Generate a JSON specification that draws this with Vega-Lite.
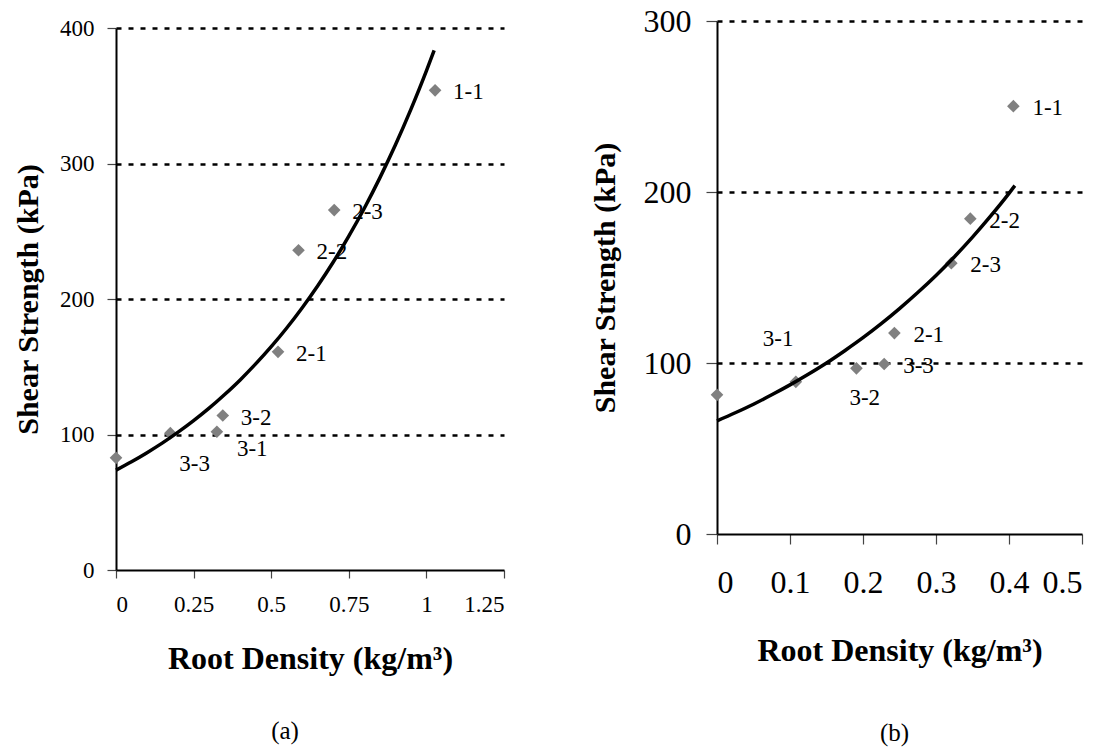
{
  "$schema": "https://vega.github.io/schema/vega-lite/v6.json",
  "background": "white",
  "padding": {"left": 13, "top": 5, "right": 2, "bottom": 5},
  "config": {
    "view": {"stroke": null},
    "font": "Liberation Serif",
    "axis": {
      "labelFont": "Liberation Serif",
      "titleFont": "Liberation Serif",
      "labelColor": "black",
      "titleColor": "black",
      "domainColor": "black",
      "domainWidth": 2,
      "tickColor": "#444",
      "tickWidth": 1.2,
      "gridColor": "black",
      "gridDash": [5, 7],
      "gridWidth": 2.5,
      "titleFontWeight": "bold",
      "labelFontWeight": "normal",
      "labelExpr": "'' + datum.value"
    },
    "concat": {"spacing": 85}
  },
  "datasets": {
    "ptsA": [
      {"x": 0, "y": 82.8, "label": ""},
      {"x": 0.175, "y": 101, "label": "3-3"},
      {"x": 0.325, "y": 102, "label": "3-1"},
      {"x": 0.344, "y": 114, "label": "3-2"},
      {"x": 0.522, "y": 161, "label": "2-1"},
      {"x": 0.588, "y": 236, "label": "2-2"},
      {"x": 0.703, "y": 265.6, "label": "2-3"},
      {"x": 1.028, "y": 354, "label": "1-1"}
    ],
    "curveA": [
      {"x": 0, "y": 73.7}, {"x": 0.05, "y": 79.9}, {"x": 0.1, "y": 86.6}, {"x": 0.15, "y": 93.8},
      {"x": 0.2, "y": 101.7}, {"x": 0.25, "y": 110.2}, {"x": 0.3, "y": 119.4}, {"x": 0.35, "y": 129.5},
      {"x": 0.4, "y": 140.3}, {"x": 0.45, "y": 152.1}, {"x": 0.5, "y": 164.8}, {"x": 0.55, "y": 178.6},
      {"x": 0.6, "y": 193.6}, {"x": 0.65, "y": 209.8}, {"x": 0.7, "y": 227.3}, {"x": 0.75, "y": 246.4},
      {"x": 0.8, "y": 267.0}, {"x": 0.85, "y": 289.4}, {"x": 0.9, "y": 313.6}, {"x": 0.95, "y": 339.9},
      {"x": 1.0, "y": 368.3}, {"x": 1.025, "y": 383.5}
    ],
    "ptsB": [
      {"x": 0, "y": 81.4, "label": ""},
      {"x": 0.108, "y": 89, "label": "3-1"},
      {"x": 0.191, "y": 96.9, "label": "3-2"},
      {"x": 0.229, "y": 99.4, "label": "3-3"},
      {"x": 0.243, "y": 117.5, "label": "2-1"},
      {"x": 0.321, "y": 158.4, "label": "2-3"},
      {"x": 0.347, "y": 184.4, "label": "2-2"},
      {"x": 0.406, "y": 250.2, "label": "1-1"}
    ],
    "curveB": [
      {"x": 0, "y": 66.2}, {"x": 0.025, "y": 70.9}, {"x": 0.05, "y": 75.9}, {"x": 0.075, "y": 81.4},
      {"x": 0.1, "y": 87.2}, {"x": 0.125, "y": 93.4}, {"x": 0.15, "y": 100.0}, {"x": 0.175, "y": 107.2},
      {"x": 0.2, "y": 114.8}, {"x": 0.225, "y": 123.0}, {"x": 0.25, "y": 131.8}, {"x": 0.275, "y": 141.2},
      {"x": 0.3, "y": 151.2}, {"x": 0.325, "y": 162.0}, {"x": 0.35, "y": 173.6}, {"x": 0.375, "y": 186.0},
      {"x": 0.4, "y": 199.2}, {"x": 0.408, "y": 203.7}
    ]
  },
  "hconcat": [
    {
      "width": 388,
      "height": 549,
      "title": {"text": "(a)", "orient": "bottom", "font": "Liberation Serif", "fontSize": 25, "fontWeight": "normal", "offset": 45, "dx": -25, "anchor": "middle", "frame": "group", "color": "black"},
      "layer": [
        {
          "data": {"name": "ptsA"},
          "mark": {"type": "point", "shape": "diamond", "filled": true, "color": "#808080", "size": 160, "opacity": 1},
          "encoding": {
            "x": {"field": "x", "type": "quantitative",
              "scale": {"domain": [0, 1.25], "nice": false, "zero": false},
              "axis": {"title": "Root Density (kg/m³)", "values": [0, 0.25, 0.5, 0.75, 1, 1.25], "grid": false,
                "labelFontSize": 23, "titleFontSize": 32, "tickSize": 8, "labelPadding": 15, "titlePadding": 27}},
            "y": {"field": "y", "type": "quantitative",
              "scale": {"domain": [0, 400], "range": [549, 7], "nice": false, "zero": false},
              "axis": {"title": "Shear Strength (kPa)", "values": [0, 100, 200, 300, 400], "grid": true,
                "gridOpacity": {"condition": {"test": "datum.value === 0", "value": 0}, "value": 1},
                "labelFontSize": 23, "titleFontSize": 30, "tickSize": 9, "labelPadding": 13, "titlePadding": 16}}
          }
        },
        {
          "data": {"name": "curveA"},
          "mark": {"type": "line", "color": "black", "strokeWidth": 3.5, "interpolate": "monotone"},
          "encoding": {
            "x": {"field": "x", "type": "quantitative"},
            "y": {"field": "y", "type": "quantitative"}
          }
        },
        {
          "mark": {"type": "rule", "color": "black", "strokeWidth": 2},
          "encoding": {
            "x": {"datum": 1.25, "type": "quantitative"},
            "y": {"datum": 0, "type": "quantitative"},
            "y2": {"datum": 400}
          }
        },
        {
          "data": {"name": "ptsA"},
          "transform": [{"filter": {"field": "label", "oneOf": ["1-1", "2-3", "2-2", "2-1", "3-2"]}}],
          "mark": {"type": "text", "align": "left", "baseline": "middle", "dx": 18, "dy": 2, "fontSize": 23, "font": "Liberation Serif", "color": "black"},
          "encoding": {
            "x": {"field": "x", "type": "quantitative"},
            "y": {"field": "y", "type": "quantitative"},
            "text": {"field": "label"}
          }
        },
        {
          "data": {"name": "ptsA"},
          "transform": [{"filter": {"field": "label", "equal": "3-1"}}],
          "mark": {"type": "text", "align": "left", "baseline": "middle", "dx": 20, "dy": 17, "fontSize": 23, "font": "Liberation Serif", "color": "black"},
          "encoding": {
            "x": {"field": "x", "type": "quantitative"},
            "y": {"field": "y", "type": "quantitative"},
            "text": {"field": "label"}
          }
        },
        {
          "data": {"name": "ptsA"},
          "transform": [{"filter": {"field": "label", "equal": "3-3"}}],
          "mark": {"type": "text", "align": "left", "baseline": "middle", "dx": 9, "dy": 31, "fontSize": 23, "font": "Liberation Serif", "color": "black"},
          "encoding": {
            "x": {"field": "x", "type": "quantitative"},
            "y": {"field": "y", "type": "quantitative"},
            "text": {"field": "label"}
          }
        },
        {
          "mark": {"type": "text", "text": "y = 73.717e", "align": "left", "baseline": "middle", "fontSize": 25, "font": "Liberation Serif", "color": "black"},
          "encoding": {
            "x": {"datum": 0.129, "type": "quantitative"},
            "y": {"datum": 348, "type": "quantitative"}
          }
        },
        {
          "mark": {"type": "text", "text": "1.6088x", "align": "left", "baseline": "middle", "fontSize": 17, "font": "Liberation Serif", "color": "black"},
          "encoding": {
            "x": {"datum": 0.518, "type": "quantitative"},
            "y": {"datum": 359.5, "type": "quantitative"}
          }
        },
        {
          "mark": {"type": "text", "text": "R² = 0.9278", "align": "left", "baseline": "middle", "fontSize": 25, "font": "Liberation Serif", "color": "black"},
          "encoding": {
            "x": {"datum": 0.233, "type": "quantitative"},
            "y": {"datum": 318.8, "type": "quantitative"}
          }
        }
      ]
    },
    {
      "width": 365,
      "height": 513,
      "title": {"text": "(b)", "orient": "bottom", "font": "Liberation Serif", "fontSize": 25, "fontWeight": "normal", "offset": 55, "dx": -5, "anchor": "middle", "frame": "group", "color": "black"},
      "layer": [
        {
          "data": {"name": "ptsB"},
          "mark": {"type": "point", "shape": "diamond", "filled": true, "color": "#808080", "size": 160, "opacity": 1},
          "encoding": {
            "x": {"field": "x", "type": "quantitative",
              "scale": {"domain": [0, 0.5], "nice": false, "zero": false},
              "axis": {"title": "Root Density (kg/m³)", "values": [0, 0.1, 0.2, 0.3, 0.4, 0.5], "grid": false,
                "labelFontSize": 32, "titleFontSize": 32, "tickSize": 10, "labelPadding": 23, "titlePadding": 37}},
            "y": {"field": "y", "type": "quantitative",
              "scale": {"domain": [0, 300], "nice": false, "zero": false},
              "axis": {"title": "Shear Strength (kPa)", "values": [0, 100, 200, 300], "grid": true,
                "gridOpacity": {"condition": {"test": "datum.value === 0", "value": 0}, "value": 1},
                "labelFontSize": 32, "titleFontSize": 30, "tickSize": 11, "labelPadding": 15, "titlePadding": 23}}
          }
        },
        {
          "data": {"name": "curveB"},
          "mark": {"type": "line", "color": "black", "strokeWidth": 3.5, "interpolate": "monotone"},
          "encoding": {
            "x": {"field": "x", "type": "quantitative"},
            "y": {"field": "y", "type": "quantitative"}
          }
        },
        {
          "mark": {"type": "rule", "color": "black", "strokeWidth": 2},
          "encoding": {
            "x": {"datum": 0.5, "type": "quantitative"},
            "y": {"datum": 0, "type": "quantitative"},
            "y2": {"datum": 300}
          }
        },
        {
          "data": {"name": "ptsB"},
          "transform": [{"filter": {"field": "label", "oneOf": ["1-1", "2-2", "2-3", "2-1", "3-3"]}}],
          "mark": {"type": "text", "align": "left", "baseline": "middle", "dx": 19, "dy": 2, "fontSize": 23, "font": "Liberation Serif", "color": "black"},
          "encoding": {
            "x": {"field": "x", "type": "quantitative"},
            "y": {"field": "y", "type": "quantitative"},
            "text": {"field": "label"}
          }
        },
        {
          "data": {"name": "ptsB"},
          "transform": [{"filter": {"field": "label", "equal": "3-2"}}],
          "mark": {"type": "text", "align": "left", "baseline": "middle", "dx": -7, "dy": 30, "fontSize": 23, "font": "Liberation Serif", "color": "black"},
          "encoding": {
            "x": {"field": "x", "type": "quantitative"},
            "y": {"field": "y", "type": "quantitative"},
            "text": {"field": "label"}
          }
        },
        {
          "data": {"name": "ptsB"},
          "transform": [{"filter": {"field": "label", "equal": "3-1"}}],
          "mark": {"type": "text", "align": "left", "baseline": "middle", "dx": -33, "dy": -43, "fontSize": 23, "font": "Liberation Serif", "color": "black"},
          "encoding": {
            "x": {"field": "x", "type": "quantitative"},
            "y": {"field": "y", "type": "quantitative"},
            "text": {"field": "label"}
          }
        },
        {
          "mark": {"type": "text", "text": "y = 66.166e", "align": "left", "baseline": "middle", "fontSize": 25, "font": "Liberation Serif", "color": "black"},
          "encoding": {
            "x": {"datum": 0.0445, "type": "quantitative"},
            "y": {"datum": 259.5, "type": "quantitative"}
          }
        },
        {
          "mark": {"type": "text", "text": "2.7556x", "align": "left", "baseline": "middle", "fontSize": 17, "font": "Liberation Serif", "color": "black"},
          "encoding": {
            "x": {"datum": 0.211, "type": "quantitative"},
            "y": {"datum": 268.3, "type": "quantitative"}
          }
        },
        {
          "mark": {"type": "text", "text": "R² = 0.8373", "align": "left", "baseline": "middle", "fontSize": 25, "font": "Liberation Serif", "color": "black"},
          "encoding": {
            "x": {"datum": 0.089, "type": "quantitative"},
            "y": {"datum": 234.2, "type": "quantitative"}
          }
        }
      ]
    }
  ]
}
